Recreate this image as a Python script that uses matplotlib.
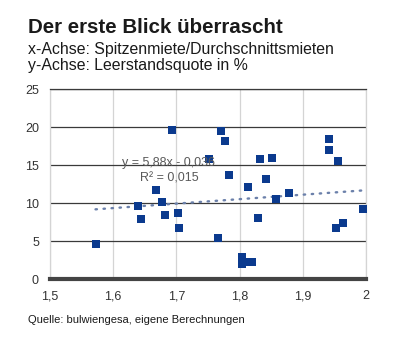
import numpy as np
import matplotlib
matplotlib.use("Agg")
from matplotlib import pyplot as plt

plt.rcParams['font.family'] = ['Liberation Sans', 'DejaVu Sans']

# Spitzenmiete/Durchschnittsmiete vs. Leerstandsquote
ratio = [1.572, 1.639, 1.644, 1.668, 1.677, 1.682, 1.693, 1.703, 1.704, 1.752,
         1.766, 1.771, 1.777, 1.783, 1.803, 1.804, 1.812, 1.813, 1.819, 1.829,
         1.833, 1.842, 1.851, 1.858, 1.878, 1.941, 1.941, 1.952, 1.955, 1.964,
         1.995]
vacancy = [4.7, 9.7, 7.9, 11.7, 10.2, 8.5, 19.6, 8.7, 6.7, 15.8,
           5.5, 19.5, 18.2, 13.7, 2.0, 2.9, 2.3, 12.1, 2.3, 8.1,
           15.8, 13.2, 15.9, 10.6, 11.3, 18.5, 17.0, 6.7, 15.6, 7.4,
           9.3]

slope = 5.88
intercept = -0.036
r2 = 0.015

xticks = [1.5, 1.6, 1.7, 1.8, 1.9, 2.0]
xticklabels = ['1,5', '1,6', '1,7', '1,8', '1,9', '2']
yticks = [0, 5, 10, 15, 20, 25]

fig = plt.figure(figsize=(3.96, 3.46), dpi=100)
ax = fig.add_axes([0.1263, 0.1928, 0.798, 0.549])

ax.scatter(ratio, vacancy, marker='s', s=30, color='#0b3a8e', zorder=3, linewidths=0)

# linear trend line
xt = np.array([min(ratio), max(ratio)])
ax.plot(xt, slope * xt + intercept, color='#6b80aa', lw=1.7,
        linestyle=(0, (0.6, 2.8)), dash_capstyle='round', zorder=2)

eq = 'y = {:.2f}x - {:.3f}'.format(slope, -intercept).replace('.', ',')
ax.text(1.688, 15.3, eq, ha='center', va='center',
        fontsize=9, color='#595959', zorder=4)
ax.text(1.688, 13.3, 'R² = {:.3f}'.format(r2).replace('.', ','), ha='center',
        va='center', fontsize=9, color='#595959', zorder=4)

ax.set_xlim(1.5, 2.0)
ax.set_ylim(0, 25)
ax.set_xticks(xticks)
ax.set_xticklabels(xticklabels, va='baseline')
ax.set_yticks(yticks)
ax.tick_params(length=0, labelsize=9, labelcolor='#333333')
ax.tick_params(axis='x', pad=14.3)
ax.tick_params(axis='y', pad=8)

ax.xaxis.grid(True, color='#d4d4d4', lw=0.9)
ax.yaxis.grid(True, color='#3a3a3a', lw=0.9)
ax.set_axisbelow(True)

for side in ['left', 'right']:
    ax.spines[side].set_color('#d4d4d4')
    ax.spines[side].set_linewidth(0.9)
ax.spines['top'].set_color('#3a3a3a')
ax.spines['top'].set_linewidth(0.9)
ax.spines['bottom'].set_color('#444444')
ax.spines['bottom'].set_linewidth(3)

H = 346.0
fig.text(28 / 396, 1 - 33 / H, 'Der erste Blick überrascht', fontsize=14.8,
         fontweight='bold', color='#1a1a1a', va='baseline')
fig.text(28 / 396, 1 - 54 / H, 'x-Achse: Spitzenmiete/Durchschnittsmieten',
         fontsize=11.4, color='#1a1a1a', va='baseline')
fig.text(28 / 396, 1 - 70 / H, 'y-Achse: Leerstandsquote in %',
         fontsize=11.4, color='#1a1a1a', va='baseline')
fig.text(28 / 396, 1 - 323 / H, 'Quelle: bulwiengesa, eigene Berechnungen',
         fontsize=8, color='#1a1a1a', va='baseline')

fig.savefig('out.png', dpi=100)
